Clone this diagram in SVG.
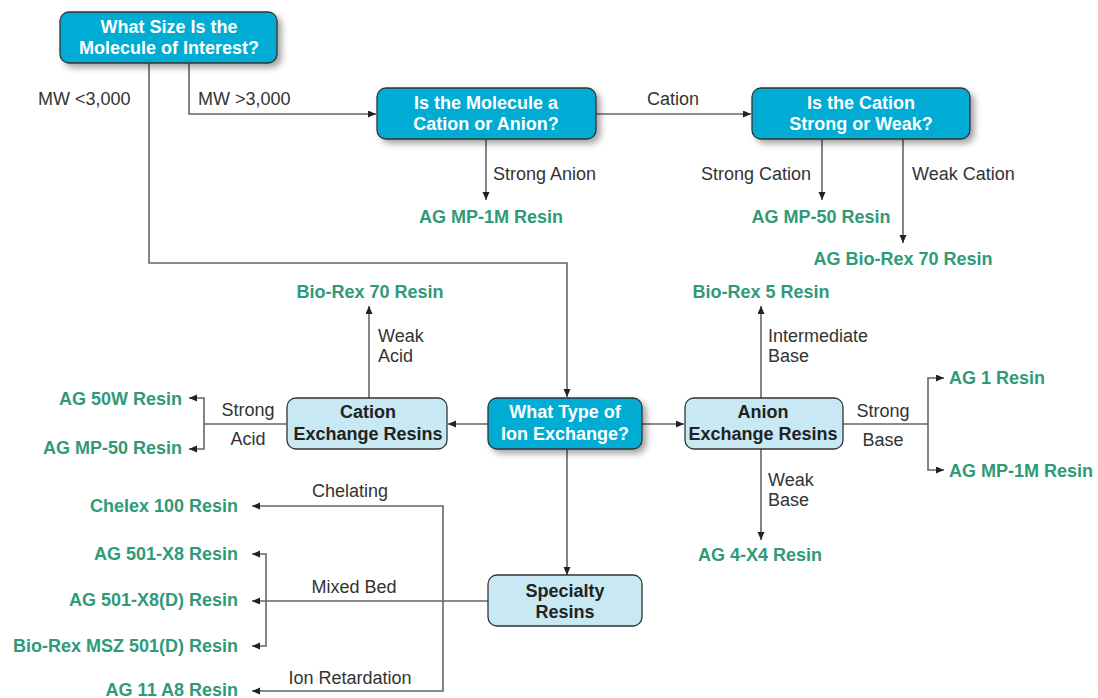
<svg xmlns="http://www.w3.org/2000/svg" width="1098" height="698" viewBox="0 0 1098 698">
<defs>
<style>
.box{stroke:#333;stroke-width:1.3}
.dark{fill:#00acd3}
.light{fill:#c8e8f3}
.bt{font-family:"Liberation Sans",Arial,sans-serif;font-size:18px;font-weight:bold;text-anchor:middle}
.wt{fill:#fff}
.kt{fill:#222}
.lbl{font-family:"Liberation Sans",Arial,sans-serif;font-size:18px;fill:#333}
.res{font-family:"Liberation Sans",Arial,sans-serif;font-size:18px;font-weight:bold;fill:#2f9a78}
.ln{fill:none;stroke:#666;stroke-width:1.6}
.arr{marker-end:url(#ah)}
</style>
<marker id="ah" markerUnits="userSpaceOnUse" markerWidth="9" markerHeight="8" refX="8" refY="3.5" orient="auto">
<path d="M0,0 L8,3.5 L0,7 z" fill="#222"/>
</marker>
<filter id="sh" x="-10%" y="-20%" width="130%" height="160%">
<feDropShadow dx="4" dy="4" stdDeviation="3" flood-color="#000" flood-opacity="0.35"/>
</filter>
</defs>
<rect width="1098" height="698" fill="#fff"/>

<g id="connectors">
<polyline class="ln arr" points="149,63 149,263 567,263 567,397"/>
<polyline class="ln arr" points="189,63 189,114 376,114"/>
<line class="ln arr" x1="596" y1="114" x2="751" y2="114"/>
<line class="ln arr" x1="486" y1="139" x2="486" y2="200"/>
<line class="ln arr" x1="822" y1="139" x2="822" y2="200"/>
<line class="ln arr" x1="903" y1="139" x2="903" y2="243"/>
<line class="ln arr" x1="488" y1="424" x2="448" y2="424"/>
<line class="ln arr" x1="642" y1="424" x2="684" y2="424"/>
<line class="ln arr" x1="567" y1="449" x2="567" y2="575"/>
<line class="ln arr" x1="369" y1="398" x2="369" y2="306"/>
<line class="ln" x1="287" y1="424" x2="204" y2="424"/>
<polyline class="ln arr" points="204,424 204,398 189,398"/>
<polyline class="ln arr" points="204,424 204,449 189,449"/>
<line class="ln arr" x1="761" y1="398" x2="761" y2="306"/>
<line class="ln arr" x1="761" y1="449" x2="761" y2="540"/>
<line class="ln" x1="843" y1="424" x2="928" y2="424"/>
<polyline class="ln arr" points="928,424 928,378 944,378"/>
<polyline class="ln arr" points="928,424 928,470 944,470"/>
<line class="ln arr" x1="488" y1="601" x2="252" y2="601"/>
<polyline class="ln arr" points="443,601 443,506 252,506"/>
<polyline class="ln arr" points="443,601 443,691 252,691"/>
<polyline class="ln arr" points="266,601 266,554 252,554"/>
<polyline class="ln arr" points="266,601 266,646 252,646"/>
</g>

<g id="n-size">
<rect class="box dark" x="60" y="12" width="217" height="51" rx="9" filter="url(#sh)"/>
<text class="bt wt" x="169" y="33">What Size Is the</text>
<text class="bt wt" x="169" y="54">Molecule of Interest?</text>
</g>
<g id="n-cation-anion">
<rect class="box dark" x="377" y="88" width="219" height="51" rx="9" filter="url(#sh)"/>
<text class="bt wt" x="486" y="109">Is the Molecule a</text>
<text class="bt wt" x="486" y="130">Cation or Anion?</text>
</g>
<g id="n-strong-weak">
<rect class="box dark" x="752" y="88" width="218" height="51" rx="9" filter="url(#sh)"/>
<text class="bt wt" x="861" y="109">Is the Cation</text>
<text class="bt wt" x="861" y="130">Strong or Weak?</text>
</g>
<g id="n-ion-type">
<rect class="box dark" x="488" y="398" width="154" height="51" rx="9" filter="url(#sh)"/>
<text class="bt wt" x="565" y="418">What Type of</text>
<text class="bt wt" x="565" y="440">Ion Exchange?</text>
</g>
<g id="n-cation-resins">
<rect class="box light" x="287" y="398" width="160" height="51" rx="9"/>
<text class="bt kt" x="368" y="418">Cation</text>
<text class="bt kt" x="368" y="440">Exchange Resins</text>
</g>
<g id="n-anion-resins">
<rect class="box light" x="685" y="398" width="158" height="51" rx="9"/>
<text class="bt kt" x="763" y="418">Anion</text>
<text class="bt kt" x="763" y="440">Exchange Resins</text>
</g>
<g id="n-specialty">
<rect class="box light" x="488" y="575" width="154" height="51" rx="9"/>
<text class="bt kt" x="565" y="597">Specialty</text>
<text class="bt kt" x="565" y="618">Resins</text>
</g>

<g id="labels">
<text class="lbl" x="38" y="105">MW &lt;3,000</text>
<text class="lbl" x="198" y="105">MW &gt;3,000</text>
<text class="lbl" x="647" y="105">Cation</text>
<text class="lbl" x="493" y="180">Strong Anion</text>
<text class="lbl" x="811" y="180" text-anchor="end">Strong Cation</text>
<text class="lbl" x="912" y="180">Weak Cation</text>
<text class="lbl" x="378" y="342">Weak</text>
<text class="lbl" x="378" y="362">Acid</text>
<text class="lbl" x="248" y="416" text-anchor="middle">Strong</text>
<text class="lbl" x="248" y="445" text-anchor="middle">Acid</text>
<text class="lbl" x="768" y="342">Intermediate</text>
<text class="lbl" x="768" y="362">Base</text>
<text class="lbl" x="883" y="417" text-anchor="middle">Strong</text>
<text class="lbl" x="883" y="446" text-anchor="middle">Base</text>
<text class="lbl" x="768" y="486">Weak</text>
<text class="lbl" x="768" y="506">Base</text>
<text class="lbl" x="350" y="497" text-anchor="middle">Chelating</text>
<text class="lbl" x="354" y="593" text-anchor="middle">Mixed Bed</text>
<text class="lbl" x="350" y="684" text-anchor="middle">Ion Retardation</text>
</g>

<g id="resins">
<text class="res" x="491" y="223" text-anchor="middle">AG MP-1M Resin</text>
<text class="res" x="821" y="223" text-anchor="middle">AG MP-50 Resin</text>
<text class="res" x="903" y="265" text-anchor="middle">AG Bio-Rex 70 Resin</text>
<text class="res" x="370" y="298" text-anchor="middle">Bio-Rex 70 Resin</text>
<text class="res" x="761" y="298" text-anchor="middle">Bio-Rex 5 Resin</text>
<text class="res" x="182" y="405" text-anchor="end">AG 50W Resin</text>
<text class="res" x="182" y="454" text-anchor="end">AG MP-50 Resin</text>
<text class="res" x="949" y="384">AG 1 Resin</text>
<text class="res" x="949" y="477">AG MP-1M Resin</text>
<text class="res" x="760" y="561" text-anchor="middle">AG 4-X4 Resin</text>
<text class="res" x="238" y="512" text-anchor="end">Chelex 100 Resin</text>
<text class="res" x="238" y="560" text-anchor="end">AG 501-X8 Resin</text>
<text class="res" x="238" y="606" text-anchor="end">AG 501-X8(D) Resin</text>
<text class="res" x="238" y="652" text-anchor="end">Bio-Rex MSZ 501(D) Resin</text>
<text class="res" x="238" y="696" text-anchor="end">AG 11 A8 Resin</text>
</g>
</svg>
